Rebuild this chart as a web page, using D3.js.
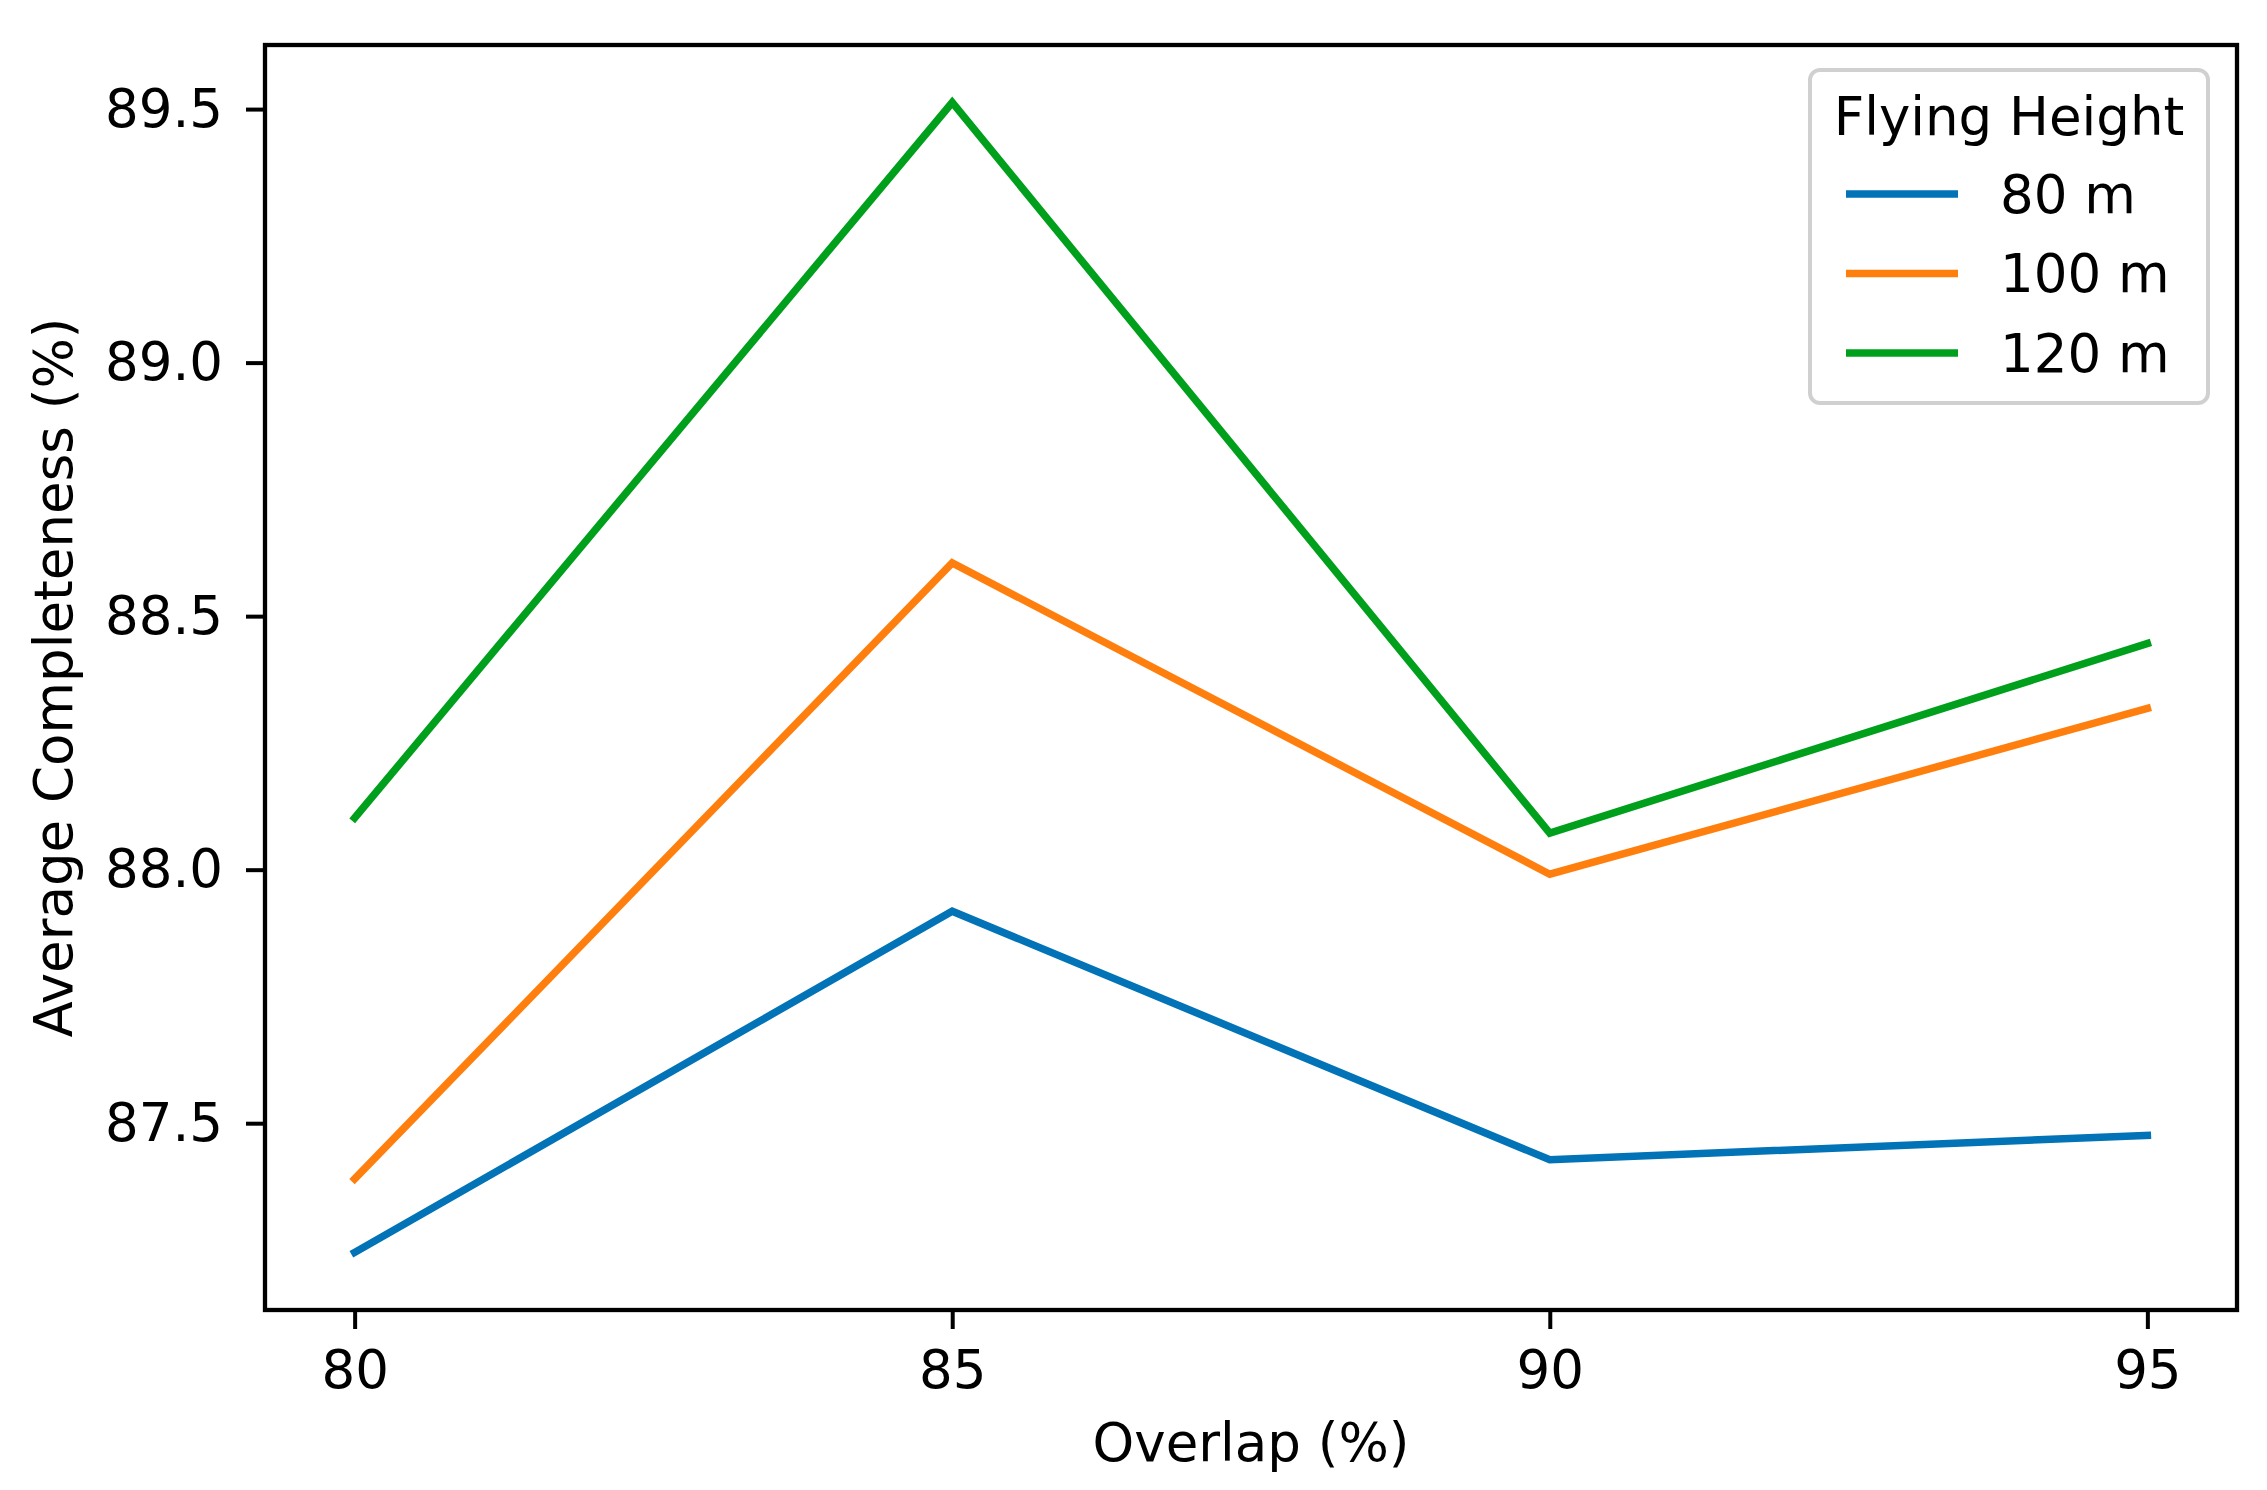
<!DOCTYPE html>
<html>
<head>
<meta charset="utf-8">
<script src="https://cdn.jsdelivr.net/npm/d3@7"></script>
<style>
  html, body { margin: 0; padding: 0; background: #ffffff; }
  svg { display: block; }
  text { font-family: "DejaVu Sans", sans-serif; fill: #000; }
</style>
</head>
<body>
<svg id="chart" width="2267" height="1490"></svg>
<script>
// ---- data ----
const overlaps = [80, 85, 90, 95];
const xTicks = [80, 85, 90, 95];
const yTicks = [87.5, 88.0, 88.5, 89.0, 89.5];
const seriesNames = ["80 m", "100 m", "120 m"];
const seriesColors = ["#0173b6", "#ff7f0e", "#00a01c"];
const values80 = [87.245, 87.918, 87.428, 87.476];
const values100 = [87.390, 88.605, 87.991, 88.318];
const values120 = [88.102, 89.513, 88.072, 88.446];
const legendTitle = "Flying Height";
const xLabel = "Overlap (%)";
const yLabel = "Average Completeness (%)";

const series = [values80, values100, values120].map((v, i) => ({
  name: seriesNames[i], color: seriesColors[i],
  points: overlaps.map((x, j) => ({ x, y: v[j] }))
}));

// ---- layout ----
const W = 2267, H = 1490;
const plot = { left: 265, right: 2237, top: 45, bottom: 1310 };
const FS = 53;

const svg = d3.select("#chart");

// matplotlib-style 5% margins
const xExt = d3.extent(overlaps);
const xPad = (xExt[1] - xExt[0]) * 0.05;
const allY = [].concat(values80, values100, values120);
const yExt = d3.extent(allY);
const yPad = (yExt[1] - yExt[0]) * 0.05;

const x = d3.scaleLinear().domain([xExt[0] - xPad, xExt[1] + xPad]).range([plot.left, plot.right]);
const y = d3.scaleLinear().domain([yExt[0] - yPad, yExt[1] + yPad]).range([plot.bottom, plot.top]);

// lines
const line = d3.line().x(d => x(d.x)).y(d => y(d.y));
svg.append("g").selectAll("path").data(series).join("path")
  .attr("d", d => line(d.points))
  .attr("fill", "none")
  .attr("stroke", d => d.color)
  .attr("stroke-width", 7.5)
  .attr("stroke-linejoin", "miter")
  .attr("stroke-linecap", "square");

// axes
const xAxis = d3.axisBottom(x).tickValues(xTicks).tickFormat(d3.format("d")).tickSize(19).tickPadding(21);
const gx = svg.append("g").attr("transform", `translate(0,${plot.bottom})`).call(xAxis);
gx.select(".domain").remove();
gx.selectAll("line").attr("stroke", "#000").attr("stroke-width", 4);
gx.selectAll("text").attr("font-size", FS).attr("font-family", "DejaVu Sans");

const yAxis = d3.axisLeft(y).tickValues(yTicks).tickFormat(d3.format(".1f")).tickSize(19).tickPadding(23);
const gy = svg.append("g").attr("transform", `translate(${plot.left},0)`).call(yAxis);
gy.select(".domain").remove();
gy.selectAll("line").attr("stroke", "#000").attr("stroke-width", 4);
gy.selectAll("text").attr("font-size", FS).attr("font-family", "DejaVu Sans");

// spines
svg.append("rect")
  .attr("x", plot.left).attr("y", plot.top)
  .attr("width", plot.right - plot.left).attr("height", plot.bottom - plot.top)
  .attr("fill", "none").attr("stroke", "#000").attr("stroke-width", 4.3);

// axis labels
svg.append("text")
  .attr("x", (plot.left + plot.right) / 2).attr("y", 1461)
  .attr("text-anchor", "middle").attr("font-size", FS).text(xLabel);

svg.append("text")
  .attr("transform", `translate(72,${(plot.top + plot.bottom) / 2}) rotate(-90)`)
  .attr("text-anchor", "middle").attr("font-size", FS).text(yLabel);

// legend
const lg = svg.append("g");
lg.append("rect")
  .attr("x", 1810).attr("y", 70).attr("width", 398).attr("height", 333)
  .attr("rx", 10).attr("ry", 10)
  .attr("fill", "#ffffff").attr("fill-opacity", 0.8)
  .attr("stroke", "#d0d0d0").attr("stroke-width", 4);
lg.append("text")
  .attr("x", 2009).attr("y", 135)
  .attr("text-anchor", "middle").attr("font-size", FS).text(legendTitle);
const entries = lg.selectAll("g.entry").data(series).join("g").attr("class", "entry")
  .attr("transform", (d, i) => `translate(0,${194 + i * 79.5})`);
entries.append("line")
  .attr("x1", 1846).attr("x2", 1958).attr("y1", 0).attr("y2", 0)
  .attr("stroke", d => d.color).attr("stroke-width", 7.5);
entries.append("text")
  .attr("x", 2000).attr("y", 18.5)
  .attr("font-size", FS).text(d => d.name);
</script>
</body>
</html>
